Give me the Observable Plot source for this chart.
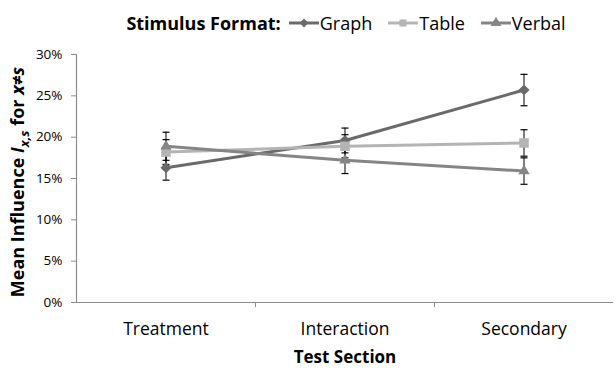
<!DOCTYPE html>
<html><head><meta charset="utf-8">
<script src="https://cdn.jsdelivr.net/npm/d3@7"></script>
<script src="https://cdn.jsdelivr.net/npm/@observablehq/plot@0.6"></script>
<style>
body{margin:0;background:#fff;font-family:"Open Sans",sans-serif;color:#000;}
#legend{height:40px;display:flex;align-items:center;justify-content:center;font-size:18px;padding-left:76px;padding-top:5px;box-sizing:border-box;}
#legend .ttl{font-weight:bold;margin-right:8px;}
#legend .item{display:flex;align-items:center;margin-right:16px;}
#legend .item:last-child{margin-right:0;}
#legend svg{margin-right:1px;}
#chart svg{display:block;}
</style>
</head><body>
<div id="legend"></div>
<div id="chart"></div>
<script>
const sections = ["Treatment", "Interaction", "Secondary"];
const formats = ["Graph", "Table", "Verbal"];
const graphMean = [0.163, 0.196, 0.257];
const graphErr = [0.015, 0.015, 0.019];
const tableMean = [0.182, 0.189, 0.193];
const tableErr = [0.015, 0.014, 0.016];
const verbalMean = [0.189, 0.172, 0.159];
const verbalErr = [0.017, 0.016, 0.016];
const yTicks = [0, 0.05, 0.10, 0.15, 0.20, 0.25, 0.30];

const colors = ["#6a6a6a", "#b4b4b4", "#858585"];
const symbols = ["diamond2", "square", "triangle"];
const symR = [5, 5.4, 4.2];

const series = {Graph: [graphMean, graphErr], Table: [tableMean, tableErr], Verbal: [verbalMean, verbalErr]};
const rows = [];
formats.forEach(f => {
  sections.forEach((s, i) => {
    rows.push({format: f, section: s, pos: i + 0.5, mean: series[f][0][i], err: series[f][1][i]});
  });
});

// legend
const leg = d3.select("#legend");
leg.append("span").attr("class", "ttl").text("Stimulus Format:");
formats.forEach((f, k) => {
  const it = leg.append("span").attr("class", "item");
  const sv = it.append("svg").attr("width", 30).attr("height", 14);
  sv.append("line").attr("x1", 0).attr("x2", 30).attr("y1", 7).attr("y2", 7).attr("stroke", colors[k]).attr("stroke-width", 3);
  const st = [d3.symbolDiamond2, d3.symbolSquare, d3.symbolTriangle][k];
  sv.append("path").attr("transform", "translate(15,7)").attr("d", d3.symbol(st, 50)()).attr("fill", colors[k]);
  it.append("span").text(f);
});

const cap = {draw(context) { context.moveTo(-3.5, 0); context.lineTo(3.5, 0); }};

const markersFor = (f, k) => Plot.dot(rows, {
  filter: d => d.format === f, x: "pos", y: "mean", symbol: () => symbols[k], fill: colors[k], stroke: "none", r: symR[k]
});

const chart = Plot.plot({
  width: 616,
  height: 333,
  marginTop: 14,
  marginBottom: 71,
  marginLeft: 76,
  marginRight: 3,
  style: {fontFamily: "Open Sans, sans-serif", color: "#000", background: "#fff"},
  x: {type: "linear", domain: [0, 3]},
  y: {domain: [0, 0.3]},
  symbol: {type: "identity"},
  marks: [
    Plot.axisY({ticks: yTicks, tickFormat: d3.format(".0%"), tickSize: 5, tickPadding: 9, fontSize: 13.5, stroke: "#8c8c8c", label: null}),
    Plot.axisX({ticks: [0.5, 1.5, 2.5], tickSize: 0, tickPadding: 20, fontSize: 17.5, tickFormat: d => sections[Math.floor(d)], label: null}),
    Plot.axisX({ticks: [1, 2], tickSize: 5, tickFormat: () => "", stroke: "#8c8c8c", label: null}),
    Plot.ruleY([0], {stroke: "#8c8c8c", strokeWidth: 1.2}),
    Plot.ruleX([0], {stroke: "#8c8c8c", strokeWidth: 1.2}),
    Plot.line(rows, {x: "pos", y: "mean", z: "format", stroke: d => colors[formats.indexOf(d.format)], strokeWidth: 3}),
    Plot.ruleX(rows, {x: "pos", y1: d => d.mean - d.err, y2: d => d.mean + d.err, stroke: "#000", strokeWidth: 1}),
    Plot.dot(rows, {x: "pos", y: d => d.mean - d.err, symbol: () => cap, stroke: "#000", strokeWidth: 1.2, fill: "none"}),
    Plot.dot(rows, {x: "pos", y: d => d.mean + d.err, symbol: () => cap, stroke: "#000", strokeWidth: 1.2, fill: "none"}),
    ...formats.map(markersFor),
    Plot.text(["Test Section"], {frameAnchor: "bottom", dy: 60, fontWeight: "bold", fontSize: 17})
  ]
});
document.getElementById("chart").appendChild(chart);

const lab = d3.select(chart).append("text")
  .attr("transform", "translate(24,142) rotate(-90)")
  .attr("text-anchor", "middle")
  .attr("font-size", 18).attr("font-weight", "bold").attr("fill", "#000");
lab.append("tspan").text("Mean Influence ");
lab.append("tspan").attr("font-style", "italic").text("I");
lab.append("tspan").attr("font-style", "italic").attr("font-size", 13).attr("dy", 5).text("x,s");
lab.append("tspan").attr("dy", -5).text(" for ");
lab.append("tspan").attr("font-style", "italic").text("x≠s");
</script>
</body></html>
